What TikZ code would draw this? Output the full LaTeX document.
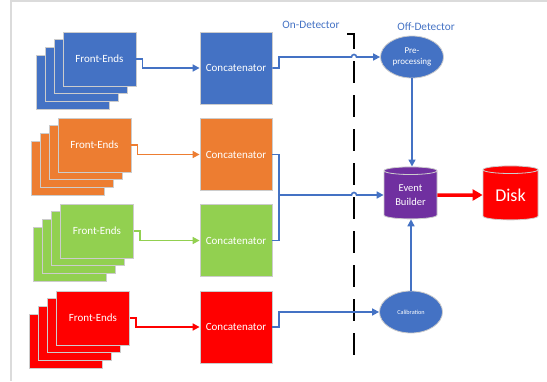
\documentclass[tikz,border=0pt]{standalone}
\usepackage{fontspec}
\setmainfont{Carlito}
\usepackage{tikz}
\usetikzlibrary{calc,shapes.geometric,arrows.meta}
\definecolor{ofblue}{HTML}{4472C4}
\definecolor{oforange}{HTML}{ED7D31}
\definecolor{ofgreen}{HTML}{92D050}
\definecolor{ofred}{HTML}{FF0000}
\definecolor{ofpurple}{HTML}{7030A0}
\definecolor{edge}{HTML}{CCCCCC}
\tikzset{>={Triangle[length=7pt,width=7pt]}}
\tikzset{
  sheet/.style={draw=edge, line width=0.8pt},
  fe box/.style={sheet, minimum width=73, minimum height=54, inner sep=0pt,
    text=white, font=\fontsize{11}{13}\selectfont},
  cc box/.style={sheet, minimum width=72, minimum height=72, inner sep=0pt,
    text=white, font=\fontsize{11}{13}\selectfont},
  blob/.style={ellipse, fill=ofblue, draw=edge, line width=0.8pt, inner sep=0pt,
    minimum width=63, minimum height=42, text=white, align=center},
  cyl/.style={cylinder, shape border rotate=90, aspect=0.25, draw=edge,
    line width=0.8pt, inner sep=0pt, text=white, align=center,
    cylinder uses custom fill, cylinder body fill=#1, cylinder end fill=#1,
    minimum width=53, minimum height=52},
  tag/.style={text=ofblue, font=\fontsize{11.3}{13}\selectfont},
  link/.style={line width=1.6pt, ->},
}

\begin{document}
\begin{tikzpicture}[x=1pt,y=-1pt]
    \useasboundingbox (0,0) rectangle (547,381);
    \draw[edge!70, line width=1.5pt] (547,1)--(11,1)--(11,381);

    % four detector groups
    \foreach \i/\col/\fx/\fy/\cy in {1/ofblue/99.5/59/68, 2/oforange/94.5/145/154.5,
                                     3/ofgreen/97/231/240.5, 4/ofred/93/318/327}{
      \foreach \k in {3,2,1}
        \filldraw[sheet, fill=\col] (\fx-9*\k-36.5,\fy+7.7*\k-27) rectangle ++(73,54);
      \node[fe box, fill=\col] (fe\i) at (\fx,\fy) {Front-Ends};
      \node[cc box, fill=\col] (cc\i) at (236,\cy) {Concatenator};
      \draw[link, \col] (fe\i.east) -- ++(6,0) |- (cc\i.west);
    }

    \node[tag] (ondet) at (311,25) {On-Detector};
    \node[tag] (offdet) at (426,27) {Off-Detector};

    \node[blob, font=\fontsize{9}{11.5}\selectfont] (pre) at (412,57) {Pre-\\processing};
    \node[blob, font=\fontsize{6.2}{7}\selectfont] (cal) at (411,312) {Calibration};
    \node[cyl=ofpurple, font=\fontsize{10.5}{13.5}\selectfont] (eb) at (410.5,195) {Event\\Builder};
    \node[cyl=ofred, font=\fontsize{18}{20}\selectfont, minimum width=55, minimum height=54] (disk) at (510.5,195) {Disk};

    % detector boundary
    \draw[line width=2.5pt, dash pattern=on 22pt off 12pt] (347,34)--(354,34)--(354,361);

    \coordinate (join) at (279,195);
    \draw[link, ofblue] (cc1.east) -- (279,68) -- (279,57) -- (351.5,57) arc (180:360:2.5) -- (pre.west);
    \draw[line width=1.6pt, ofblue] (cc2.east) -| (join);
    \draw[line width=1.6pt, ofblue] (cc3.east) -| (join);
    \draw[link, ofblue] (join) -- (351.5,195) arc (180:360:2.5) -- (eb.west);
    \draw[link, ofblue] (cc4.east) -- (279,327) |- (cal.west);
    \draw[link, ofblue] (pre.south) -- (pre.south |- eb.north);
    \draw[link, ofblue] (cal.north) -- (cal.north |- eb.south);
    \draw[ofred, line width=3.5pt, -{Triangle[length=10pt,width=11pt]}] (eb.east) -- (disk.west);
     \end{tikzpicture}
\end{document}
